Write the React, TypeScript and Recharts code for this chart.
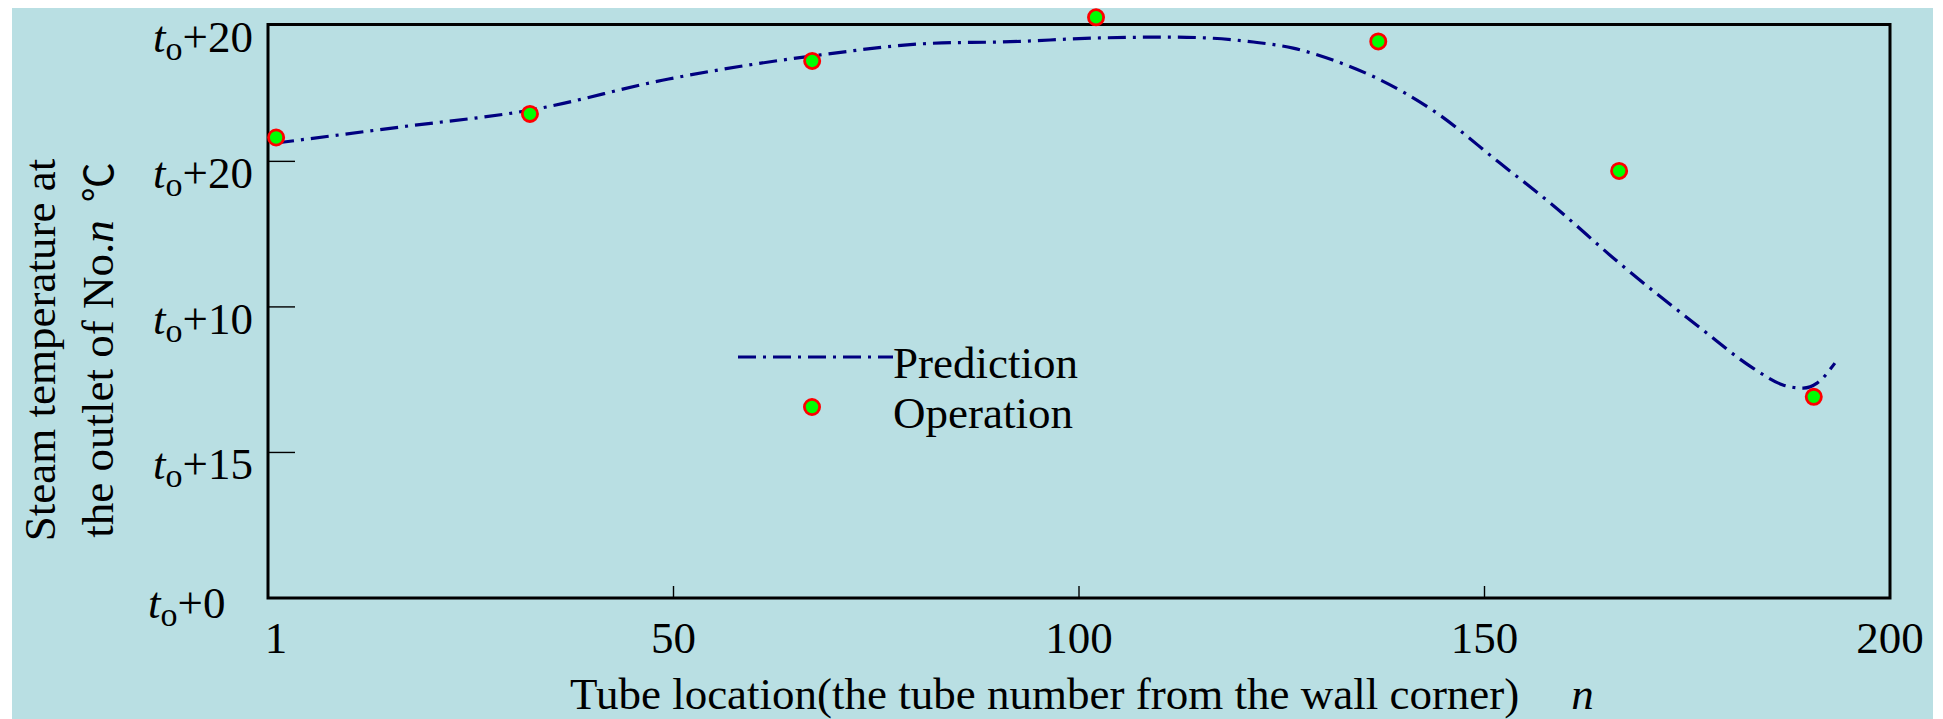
import { ComposedChart, Line, Scatter, XAxis, YAxis, ReferenceArea, Legend } from "recharts";

// tube number axis
const tubeTicks = [1, 50, 100, 150, 200];

// outlet temperature axis (labels printed as t_o + offset)
const tempTicks = [0, 5, 10, 15, 19.7];
const tempTickLabels = ["+0", "+15", "+10", "+20", "+20"];

// predicted outlet temperature curve
const predN = [1, 16.3, 32.3, 49.4, 67.1, 83.1, 90.3, 102.6, 110.9, 115.8, 121.5, 126.4, 131.3, 136.7, 143.6, 151.9, 158.1, 166.6, 176.6, 183.1, 186.8, 189.3, 191.0, 193.2];
const predT = [15.63, 16.18, 16.76, 17.83, 18.62, 19.07, 19.1, 19.24, 19.27, 19.24, 19.1, 18.89, 18.48, 17.86, 16.76, 14.94, 13.57, 11.51, 9.28, 7.9, 7.32, 7.21, 7.38, 8.07];

// measured values during operation
const opN = [1, 32.3, 67.1, 102.1, 136.9, 166.6, 190.6];
const opT = [15.82, 16.63, 18.45, 19.95, 19.12, 14.67, 6.91];

const prediction = predN.map((n, i) => ({ n, t: predT[i] }));
const operation = opN.map((n, i) => ({ n, t: opT[i] }));

const FONT = '"Liberation Serif", "Times New Roman", serif';
const BG = "#B9DFE3";
const LINE_COLOR = "#000080";
const DASH = "18 7 3 7";

function OpDot(props: any) {
  const { cx, cy } = props;
  if (cx == null || cy == null) return null;
  return <circle cx={cx} cy={cy} r={7.6} fill="#00FF00" stroke="#FF0000" strokeWidth={2.8} />;
}

function TubeTick({ x, y, payload }: any) {
  const v = payload.value;
  return (
    <g>
      {v > 1 && v < 200 && <line x1={x} x2={x} y1={y} y2={y - 12} stroke="#000" strokeWidth={1.4} />}
      <text x={x} y={y + 55} textAnchor="middle" fontFamily={FONT} fontSize={45} fill="#000">
        {v}
      </text>
    </g>
  );
}

function TempTick({ x, y, payload }: any) {
  const v = payload.value;
  const i = tempTicks.indexOf(v);
  const inner = v > 0 && v < 19;
  return (
    <g>
      {inner && <line x1={x} x2={x + 27} y1={y} y2={y} stroke="#000" strokeWidth={1.4} />}
      <text x={x - (v === 0 ? 120 : 115)} y={y + (v === 0 ? 20 : 27)} fontFamily={FONT} fontSize={45} fill="#000">
        <tspan fontStyle="italic">t</tspan>
        <tspan fontSize={34} dy={8}>o</tspan>
        <tspan dy={-8}>{tempTickLabels[i]}</tspan>
      </text>
    </g>
  );
}

function TempAxisTitle() {
  return (
    <g fontFamily={FONT} fontSize={45} fill="#000">
      <text x={43} y={342} textAnchor="middle" transform="rotate(-90, 43, 342)">
        Steam temperature at
      </text>
      <text x={101} y={342} textAnchor="middle" transform="rotate(-90, 101, 342)">
        the outlet of No.<tspan fontStyle="italic">n</tspan>
        <tspan dx={18} fontFamily='"Noto Sans CJK JP", "Noto Sans CJK SC", sans-serif' fontSize={40}>℃</tspan>
      </text>
    </g>
  );
}

function TubeAxisTitle() {
  return (
    <text x={558} y={701} fontFamily={FONT} fontSize={45} fill="#000">
      Tube location(the tube number from the wall corner)
      <tspan dx={52} fontStyle="italic">n</tspan>
    </text>
  );
}

function LegendBox() {
  return (
    <svg width={420} height={130} style={{ overflow: "visible" }}>
      <line x1={26} x2={181} y1={39} y2={39} stroke={LINE_COLOR} strokeWidth={3.2} strokeDasharray={DASH} />
      <text x={181} y={60} fontFamily={FONT} fontSize={45} fill="#000">Prediction</text>
      <circle cx={100} cy={89} r={7.6} fill="#00FF00" stroke="#FF0000" strokeWidth={2.8} />
      <text x={181} y={110} fontFamily={FONT} fontSize={45} fill="#000">Operation</text>
    </svg>
  );
}

export default function App() {
  return (
    <div style={{ marginLeft: 4, width: 1921, height: 711, background: BG }}>
      <ComposedChart width={1921} height={711} margin={{ top: 2, right: 43, bottom: 21, left: 0 }}>
        <XAxis
          dataKey="n"
          type="number"
          domain={[0, 200]}
          ticks={tubeTicks}
          interval={0}
          height={100}
          axisLine={false}
          tickLine={false}
          tickSize={0}
          tickMargin={0}
          tick={<TubeTick />}
          label={{ content: () => <TubeAxisTitle /> }}
        />
        <YAxis
          dataKey="t"
          type="number"
          domain={[0, 20.2]}
          ticks={tempTicks}
          interval={0}
          width={256}
          axisLine={false}
          tickLine={false}
          tickSize={0}
          tickMargin={0}
          tick={<TempTick />}
          label={{ content: () => <TempAxisTitle /> }}
        />
        <ReferenceArea x1={0} x2={200} y1={0} y2={19.7} fill="none" stroke="#000" strokeWidth={3} />
        <Legend
          layout="horizontal"
          verticalAlign="middle"
          align="center"
          content={() => <LegendBox />}
          wrapperStyle={{ left: 700, top: 310, width: 420, height: 130 }}
        />
        <Line
          data={prediction}
          dataKey="t"
          name="Prediction"
          type="monotone"
          stroke={LINE_COLOR}
          strokeWidth={3.2}
          strokeDasharray={DASH}
          dot={false}
          activeDot={false}
          isAnimationActive={false}
        />
        <Scatter
          data={operation}
          dataKey="t"
          name="Operation"
          shape={<OpDot />}
          isAnimationActive={false}
        />
      </ComposedChart>
    </div>
  );
}
